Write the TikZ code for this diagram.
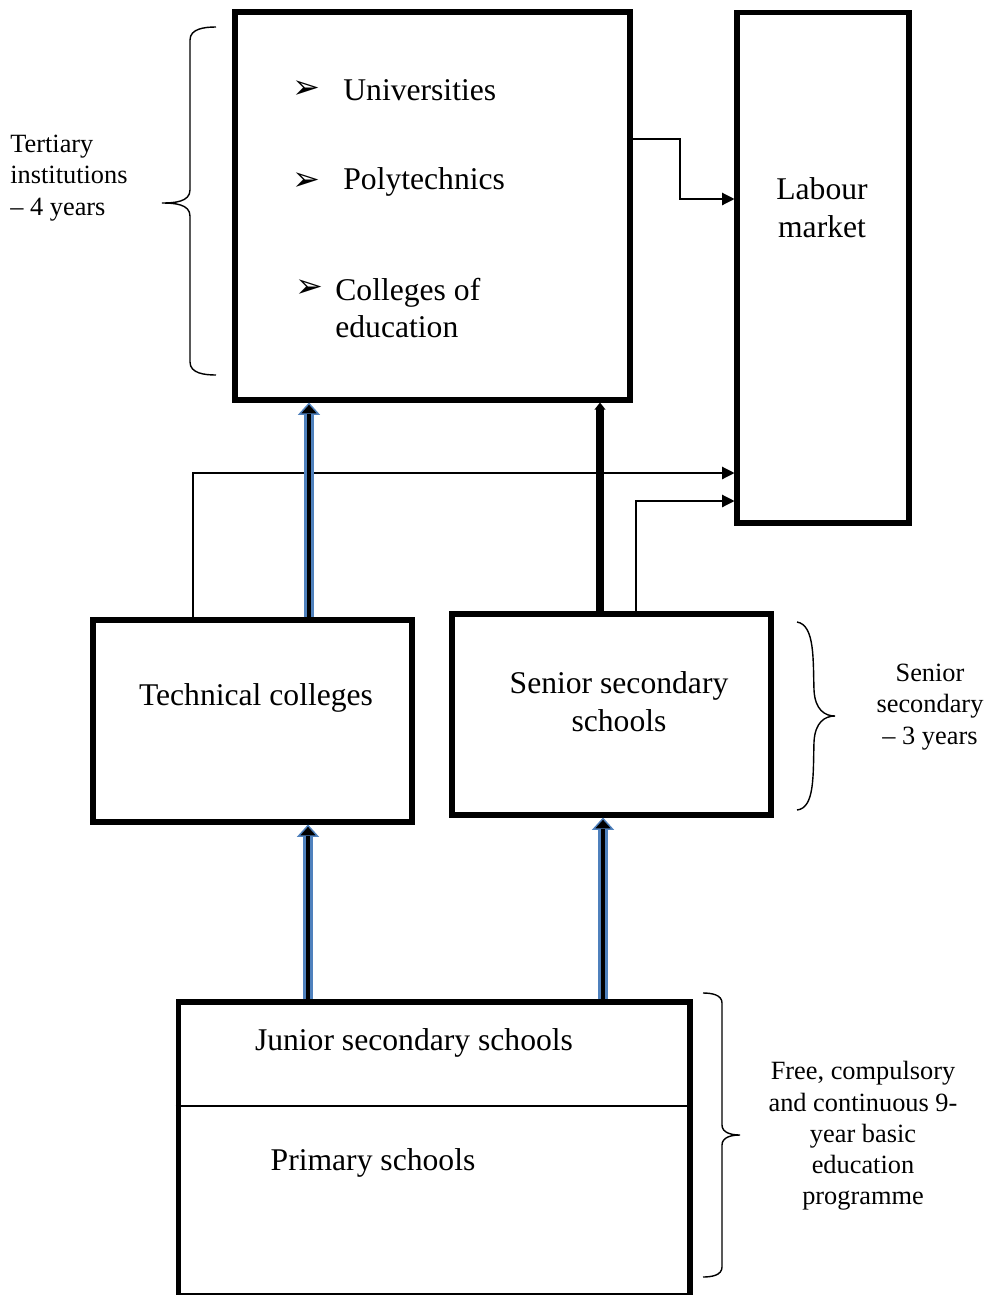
\documentclass[tikz,border=0pt]{standalone}
\usepackage{fontspec}
\setmainfont{Liberation Serif}
\newfontfamily\symfont{DejaVu Sans}
\usepackage{tikz}
\usetikzlibrary{arrows.meta, positioning}
\definecolor{colorFlow}{RGB}{79,129,189}
\tikzset{
  level/.style={draw, line width=2.9pt, inner sep=0pt},
  link/.style={draw, line width=0.7pt, -{Triangle[length=7pt,width=7pt]}},
  upflow/.style={draw=colorFlow, line width=6pt, -{Triangle[length=7pt,width=12.5pt,line width=0.8pt,fill=black]}, postaction={draw=black, line width=2.8pt, shorten >=6.5pt, -}},
  feed/.style={draw, line width=4pt, -{Triangle[length=4pt,width=6pt]}},
  main/.style={font=\fontsize{18}{21.5}\selectfont, inner sep=0pt},
  note/.style={font=\fontsize{15}{17.8}\selectfont, align=center, inner sep=0pt},
  pointer/.style={font=\symfont\bfseries\fontsize{19}{21}\selectfont, inner sep=0pt},
  curl/.style={line width=0.8pt},
}

\begin{document}
\begin{tikzpicture}[x=0.02cm, y=-0.02cm]
\useasboundingbox (0,0) rectangle (989,1295);
\node[level, minimum width=7.9cm, minimum height=7.76cm] (tert) at (432.5,206) {};
\node[level, minimum width=3.44cm, minimum height=10.22cm] (labour) at (823,267.5) {};
\node[level, minimum width=6.38cm, minimum height=4.04cm] (tech) at (252.5,721) {};
\node[level, minimum width=6.38cm, minimum height=4.02cm] (senior) at (611.5,714.5) {};
\node[level, minimum width=10.24cm, minimum height=5.88cm] (basic) at (434,1149) {};
\draw[line width=0.8pt] (basic.west |- 0,1106) -- (basic.east |- 0,1106);

\node[pointer] (b1) at (306,90) {➢};
\node[pointer] (b2) at (306,182) {➢};
\node[pointer] (b3) at (309,289) {➢};
\node[main, anchor=west] (uni) at (343,90) {Universities};
\node[main, anchor=west] (poly) at (343,182) {Polytechnics};
\node[main, anchor=west, align=left] (coe) at (335,308) {Colleges of\\education};
\node[main, align=center] (lm) at (822,208) {Labour\\market};
\node[main] (tc) at (256,698) {Technical colleges};
\node[main, align=center] (sss) at (619,702) {Senior secondary\\schools};
\node[main] (jss) at (414,1043) {Junior secondary schools};
\node[main] (ps) at (373,1163) {Primary schools};

\node[note, align=left, anchor=west] (ntert) at (10,178) {Tertiary\\institutions\\– 4 years};
\node[note] (nsen) at (930,707) {Senior\\secondary\\– 3 years};
\node[note] (nbasic) at (863,1136) {Free, compulsory\\and continuous 9-\\year basic\\education\\programme};

\draw[curl] (216,27) to[out=180,in=90] (190,40) -- (190,190) to[out=-90,in=0] (162,203) to[out=0,in=90] (190,216) -- (190,362) to[out=-90,in=180] (216,375);
\draw[curl] (797,622) .. controls (815,625) and (813,660) .. (814,690) .. controls (815,710) and (825,716) .. (835,716) .. controls (825,716) and (815,722) .. (814,742) .. controls (813,775) and (815,808) .. (797,810);
\draw[curl] (703,993) to[out=0,in=90] (722,1003) -- (722,1125) to[out=-90,in=180] (740,1135) to[out=180,in=90] (722,1145) -- (722,1267) to[out=-90,in=0] (703,1277);

\coordinate (tbend) at (680,199);
\draw[link] (tert.east |- 0,139) -| (tbend) -- (labour.west |- tbend);
\draw[link] (tech.north -| 193,0) |- (labour.west |- 0,473);
\draw[link] (senior.north -| 636,0) |- (labour.west |- 0,501);

\draw[upflow] (basic.north -| 308,0) -- (tech.south -| 308,0);
\draw[upflow] (basic.north -| 603,0) -- (senior.south -| 603,0);
\draw[upflow] (tech.north -| 309,0) -- (tert.south -| 309,0);
\draw[feed] (senior.north -| 600,0) -- (tert.south -| 600,0);
\end{tikzpicture}
\end{document}
